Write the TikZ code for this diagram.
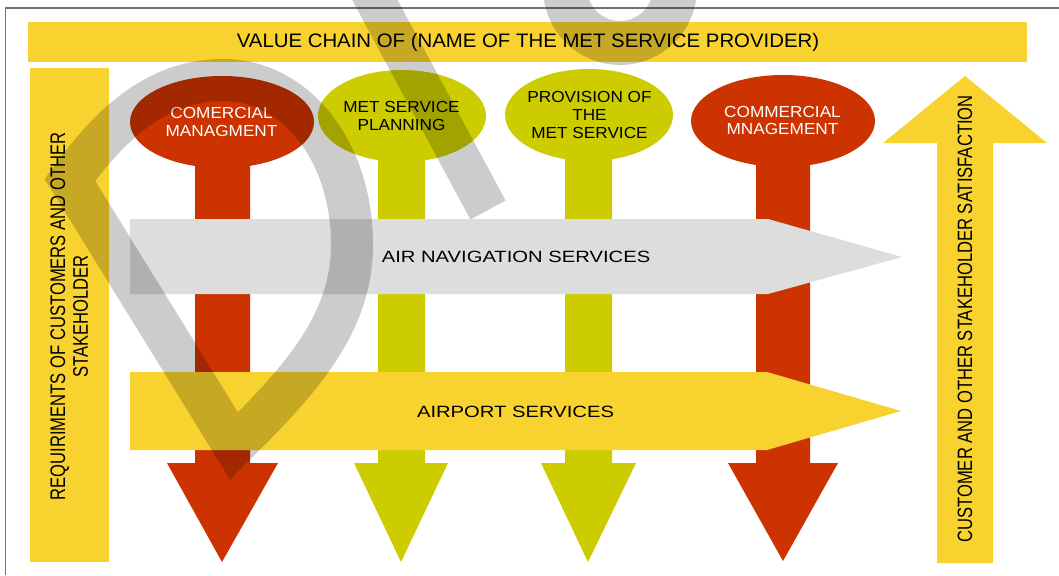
\documentclass[tikz,border=0pt]{standalone}
\usepackage{fontspec}
\setmainfont{Liberation Sans}
\usepackage{graphicx}
\definecolor{myyellow}{RGB}{248,210,46}
\definecolor{myred}{RGB}{204,51,0}
\definecolor{myolive}{RGB}{204,204,0}
\definecolor{mygrey}{RGB}{221,221,221}
\newcommand{\hsc}[2]{\scalebox{#1}[1]{#2}}
\newcommand{\vsc}[2]{\scalebox{1}[#1]{#2}}
\tikzset{
  yelfill/.style={fill=myyellow},
  redfill/.style={fill=myred},
  olivefill/.style={fill=myolive},
  greyfill/.style={fill=mygrey},
  frameline/.style={draw=black!55, line width=1.3pt},
  elltext/.style={inner sep=0pt, font=\fontsize{16}{17.5}\selectfont},
  bigtext/.style={inner sep=0pt, font=\fontsize{16.3}{18}\selectfont},
  vtext/.style={inner sep=0pt, rotate=90, font=\fontsize{16.6}{18.1}\selectfont},
  wmark/.style={draw=black, draw opacity=0.2, line width=42pt, line join=miter},
}
\begin{document}
\begin{tikzpicture}[x=1pt,y=-1pt]
\useasboundingbox (0,0) rectangle (1059,575);
\fill[white] (0,0) rectangle (1059,575);
% frame
\coordinate (fTL) at (5.5,8);
\coordinate (fTR) at (1059,8);
\coordinate (fBL) at (5.5,575);
\draw[frameline] (fTR) -- (fTL) -- (fBL);
% bars
\fill[yelfill] (28,22) rectangle (1027,62);
\fill[yelfill] (30,68) rectangle (109,562);
\fill[yelfill] (937,563) -- (937,143) -- (883,143) -- (965,76) -- (1047,143) -- (993,143) -- (993,563) -- cycle;
% vertical arrows
\fill[redfill] (195,122) -- (250,122) -- (250,463) -- (278,463) -- (222,562) -- (167,463) -- (195,463) -- cycle;
\fill[olivefill] (378,116) -- (425,116) -- (425,463) -- (448,463) -- (401,562) -- (354,463) -- (378,463) -- cycle;
\fill[olivefill] (565,115) -- (612,115) -- (612,463) -- (636,463) -- (588,562) -- (541,463) -- (565,463) -- cycle;
\fill[redfill] (756,121) -- (810,121) -- (810,463) -- (838,463) -- (783,561) -- (728,463) -- (756,463) -- cycle;
% ellipses
\fill[redfill] (222,122) ellipse [x radius=92pt, y radius=46pt];
\fill[olivefill] (402,116) ellipse [x radius=84pt, y radius=46pt];
\fill[olivefill] (589,115) ellipse [x radius=84pt, y radius=46pt];
\fill[redfill] (783,121) ellipse [x radius=92pt, y radius=46pt];
% horizontal arrows
\fill[greyfill] (130,219) -- (768,219) -- (902,257) -- (768,294) -- (130,294) -- cycle;
\fill[yelfill] (130,372) -- (767,372) -- (901,411) -- (767,450) -- (130,450) -- cycle;
% texts
\node[inner sep=0pt, anchor=base, font=\fontsize{19.5}{21}\selectfont] (title) at (528,47.3)
  {\hsc{1.045}{VALUE CHAIN OF (NAME OF THE MET SERVICE PROVIDER)}};
\node[elltext, text=white] (e1) at (221.5,124)
  {\hsc{1.075}{\begin{tabular}{@{}c@{}}COMERCIAL\\MANAGMENT\end{tabular}}};
\node[elltext] (e2) at (401.5,118)
  {\hsc{1.075}{\begin{tabular}{@{}c@{}}MET SERVICE\\PLANNING\end{tabular}}};
\node[elltext] (e3) at (589.5,117)
  {\hsc{1.075}{\begin{tabular}{@{}c@{}}PROVISION OF\\THE\\MET SERVICE\end{tabular}}};
\node[elltext, text=white] (e4) at (782.5,122.5)
  {\hsc{1.075}{\begin{tabular}{@{}c@{}}COMMERCIAL\\MNAGEMENT\end{tabular}}};
\node[bigtext, anchor=base] (ans) at (516,262) {\hsc{1.24}{AIR NAVIGATION SERVICES}};
\node[bigtext, anchor=base] (aps) at (515.5,417) {\hsc{1.24}{AIRPORT SERVICES}};
\node[vtext] (req) at (71.9,316.5)
  {\vsc{1.27}{\begin{tabular}{@{}c@{}}REQUIRIMENTS OF CUSTOMERS AND OTHER\\STAKEHOLDER\end{tabular}}};
\node[vtext, anchor=base] (sat) at (972,319)
  {\vsc{1.25}{CUSTOMER AND OTHER STAKEHOLDER SATISFACTION}};
% watermark
\begin{scope}
\clip (0,0) rectangle (1059,575);
\draw[wmark] (70,180) -- (234,446) .. controls (295,385) and (352,327) .. (352,245)
  .. controls (352,150) and (295,80) .. (223,80)
  .. controls (153,80) and (106,130) .. cycle;
\draw[wmark, line width=40pt] (363,-22) -- (488,210);
\draw[wmark, line width=44pt] (620,-12) circle [radius=55pt];
\end{scope}
\end{tikzpicture}
\end{document}
